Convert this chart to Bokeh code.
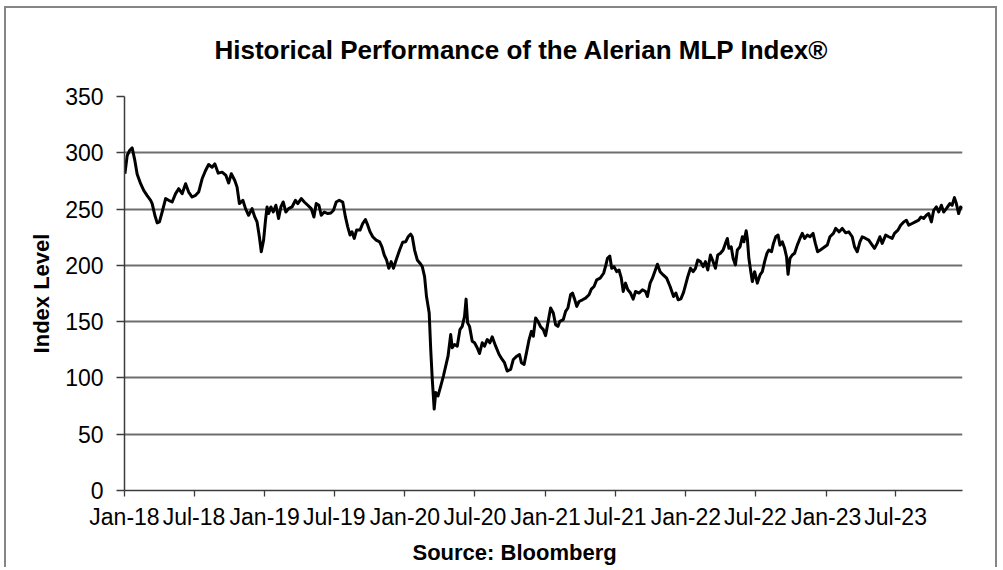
import pandas as pd
from bokeh.plotting import figure
from bokeh.models import Range1d, FixedTicker, DatetimeTickFormatter, Title, ColumnDataSource
from bokeh.embed import file_html
from bokeh.resources import INLINE

# ---------------- data ----------------
dates = [
    "2018-01-02", "2018-01-08", "2018-01-14", "2018-01-21", "2018-01-28", "2018-02-03", "2018-02-12", "2018-02-20",
    "2018-03-01", "2018-03-10", "2018-03-14", "2018-03-21", "2018-03-27", "2018-04-02", "2018-04-09", "2018-04-18",
    "2018-04-26", "2018-05-05", "2018-05-14", "2018-05-22", "2018-05-31", "2018-06-09", "2018-06-17", "2018-06-26",
    "2018-07-05", "2018-07-13", "2018-07-22", "2018-07-31", "2018-08-08", "2018-08-17", "2018-08-24", "2018-09-02",
    "2018-09-12", "2018-09-22", "2018-09-29", "2018-10-06", "2018-10-15", "2018-10-21", "2018-10-27", "2018-11-05",
    "2018-11-12", "2018-11-20", "2018-11-29", "2018-12-06", "2018-12-12", "2018-12-18", "2018-12-23", "2018-12-29",
    "2019-01-03", "2019-01-07", "2019-01-11", "2019-01-17", "2019-01-23", "2019-01-30", "2019-02-06", "2019-02-12",
    "2019-02-18", "2019-02-25", "2019-03-04", "2019-03-13", "2019-03-22", "2019-03-28", "2019-04-06", "2019-04-14",
    "2019-04-23", "2019-05-02", "2019-05-09", "2019-05-15", "2019-05-22", "2019-05-28", "2019-06-05", "2019-06-14",
    "2019-06-22", "2019-06-29", "2019-07-06", "2019-07-14", "2019-07-23", "2019-07-30", "2019-08-05", "2019-08-11",
    "2019-08-16", "2019-08-22", "2019-08-28", "2019-09-06", "2019-09-13", "2019-09-20", "2019-09-26", "2019-10-02",
    "2019-10-09", "2019-10-18", "2019-10-27", "2019-11-02", "2019-11-08", "2019-11-14", "2019-11-20", "2019-11-26",
    "2019-12-02", "2019-12-09", "2019-12-18", "2019-12-26",
    "2020-01-03", "2020-01-09", "2020-01-16", "2020-01-20", "2020-01-26", "2020-02-02", "2020-02-09", "2020-02-15",
    "2020-02-21", "2020-02-26", "2020-03-04", "2020-03-08", "2020-03-12", "2020-03-17", "2020-03-21", "2020-03-27",
    "2020-04-03", "2020-04-10", "2020-04-16", "2020-04-22", "2020-04-29", "2020-05-03", "2020-05-09", "2020-05-16",
    "2020-05-23", "2020-05-29", "2020-06-04", "2020-06-08", "2020-06-12", "2020-06-17", "2020-06-24", "2020-06-30",
    "2020-07-07", "2020-07-13", "2020-07-20", "2020-07-26", "2020-08-02", "2020-08-09", "2020-08-15", "2020-08-24",
    "2020-09-02", "2020-09-10", "2020-09-16", "2020-09-23", "2020-10-02", "2020-10-09", "2020-10-18", "2020-10-25",
    "2020-10-30", "2020-11-06", "2020-11-13", "2020-11-19", "2020-11-25", "2020-11-30", "2020-12-06", "2020-12-12",
    "2020-12-19", "2020-12-26",
    "2021-01-01", "2021-01-07", "2021-01-14", "2021-01-21", "2021-01-27", "2021-02-02", "2021-02-07", "2021-02-16",
    "2021-02-22", "2021-02-28", "2021-03-07", "2021-03-12", "2021-03-18", "2021-03-23", "2021-03-29", "2021-04-07",
    "2021-04-15", "2021-04-24", "2021-04-30", "2021-05-07", "2021-05-14", "2021-05-23", "2021-06-01", "2021-06-07",
    "2021-06-11", "2021-06-17", "2021-06-22", "2021-06-28", "2021-07-05", "2021-07-11", "2021-07-17", "2021-07-22",
    "2021-07-28", "2021-08-03", "2021-08-10", "2021-08-17", "2021-08-23", "2021-09-01", "2021-09-10", "2021-09-18",
    "2021-09-23", "2021-09-30", "2021-10-06", "2021-10-12", "2021-10-19", "2021-10-26", "2021-11-03", "2021-11-12",
    "2021-11-21", "2021-11-30", "2021-12-06", "2021-12-12", "2021-12-19", "2021-12-26",
    "2022-01-01", "2022-01-06", "2022-01-13", "2022-01-20", "2022-01-26", "2022-02-01", "2022-02-08", "2022-02-15",
    "2022-02-21", "2022-02-27", "2022-03-06", "2022-03-13", "2022-03-19", "2022-03-25", "2022-04-01", "2022-04-08",
    "2022-04-14", "2022-04-19", "2022-04-23", "2022-04-29", "2022-05-04", "2022-05-10", "2022-05-15", "2022-05-22",
    "2022-05-28", "2022-06-01", "2022-06-07", "2022-06-10", "2022-06-14", "2022-06-19", "2022-06-23", "2022-06-29",
    "2022-07-06", "2022-07-13", "2022-07-19", "2022-07-25", "2022-07-31", "2022-08-05", "2022-08-12", "2022-08-17",
    "2022-08-23", "2022-08-29", "2022-09-03", "2022-09-09", "2022-09-15", "2022-09-20", "2022-09-24", "2022-09-29",
    "2022-10-05", "2022-10-11", "2022-10-18", "2022-10-25", "2022-10-31", "2022-11-06", "2022-11-13", "2022-11-20",
    "2022-11-28", "2022-12-04", "2022-12-10", "2022-12-17", "2022-12-26",
    "2023-01-04", "2023-01-11", "2023-01-20", "2023-01-26", "2023-02-04", "2023-02-12", "2023-02-21", "2023-03-01",
    "2023-03-10", "2023-03-16", "2023-03-23", "2023-03-30", "2023-04-05", "2023-04-14", "2023-04-22", "2023-05-01",
    "2023-05-07", "2023-05-14", "2023-05-21", "2023-05-27", "2023-06-05", "2023-06-13", "2023-06-22", "2023-06-28",
    "2023-07-07", "2023-07-14", "2023-07-22", "2023-07-29", "2023-08-04", "2023-08-13", "2023-08-21", "2023-08-30",
    "2023-09-05", "2023-09-12", "2023-09-19", "2023-09-25", "2023-10-02", "2023-10-08", "2023-10-15", "2023-10-21",
    "2023-10-28", "2023-11-03", "2023-11-10", "2023-11-19", "2023-11-25", "2023-12-01", "2023-12-06", "2023-12-12",
    "2023-12-17", "2023-12-22",
]

index_level = [
    281.4, 297.5, 302.0, 304.3, 293.0, 281.0, 272.5, 266.6,
    262.0, 257.8, 254.9, 244.5, 237.7, 238.6, 247.4, 259.3,
    257.8, 256.3, 263.7, 268.1, 263.7, 272.5, 265.1, 260.7,
    262.2, 265.1, 276.9, 284.3, 289.6, 287.2, 290.2, 281.9,
    282.8, 279.9, 273.1, 281.4, 275.4, 269.5, 254.9, 257.8,
    250.4, 244.5, 250.4, 243.0, 238.6, 225.4, 212.1, 222.4,
    240.1, 251.9, 246.0, 251.9, 247.4, 253.4, 241.6, 251.9,
    256.3, 247.4, 250.4, 251.9, 257.8, 254.9, 259.3, 256.3,
    253.4, 250.4, 243.0, 254.9, 253.4, 244.5, 247.4, 246.0,
    246.5, 248.9, 256.3, 257.8, 256.3, 243.0, 234.2, 226.9,
    229.8, 223.9, 231.3, 231.3, 237.2, 240.7, 235.7, 229.8,
    225.4, 222.4, 220.9, 216.5, 209.2, 204.8, 197.4, 203.3,
    197.4, 204.8, 213.6, 220.5,
    221.0, 225.4, 227.7, 225.4, 213.6, 204.8, 201.9, 198.9,
    190.0, 172.3, 157.7, 125.3, 98.8, 72.3, 87.0, 84.0,
    92.8, 101.7, 110.5, 119.3, 138.5, 126.8, 129.7, 128.2,
    142.9, 145.8, 154.7, 170.0, 148.9, 145.8, 132.6, 131.2,
    126.8, 121.7, 131.2, 128.2, 134.1, 131.2, 136.5, 128.2,
    120.8, 116.4, 113.5, 106.1, 107.6, 116.4, 119.3, 120.8,
    113.5, 112.0, 123.8, 134.1, 141.4, 137.0, 153.3, 150.3,
    145.5, 142.9,
    137.6, 148.9, 162.1, 157.7, 147.3, 145.8, 150.3, 151.8,
    159.1, 162.1, 173.9, 175.4, 169.4, 163.5, 167.9, 169.4,
    170.9, 173.9, 178.9, 181.2, 187.1, 188.6, 193.0, 200.4,
    206.3, 208.3, 197.4, 198.9, 194.4, 195.9, 188.6, 176.8,
    184.2, 178.3, 175.4, 170.0, 176.8, 175.4, 178.3, 176.8,
    172.3, 184.2, 188.6, 194.4, 201.0, 194.4, 191.5, 188.6,
    181.2, 172.3, 175.4, 169.4, 170.2, 176.0,
    183.5, 190.0, 197.4, 194.4, 197.4, 204.8, 203.3, 198.9,
    203.3, 195.9, 209.2, 203.3, 197.4, 209.2, 210.7, 213.6,
    219.5, 223.9, 215.1, 216.5, 206.3, 200.4, 213.6, 216.5,
    225.4, 220.9, 230.7, 223.9, 206.3, 194.4, 185.6, 194.4,
    184.2, 191.5, 194.4, 203.3, 210.7, 213.6, 212.1, 219.5,
    225.4, 226.9, 218.0, 220.9, 215.1, 207.7, 192.0, 206.3,
    209.2, 210.7, 218.0, 223.9, 228.4, 223.9, 226.9, 225.4,
    228.4, 219.5, 212.1, 213.6, 215.8,
    218.0, 225.4, 228.4, 232.8, 229.8, 232.8, 228.9, 229.8,
    225.4, 216.5, 212.1, 220.9, 225.4, 223.9, 222.4, 218.0,
    215.1, 219.5, 225.4, 219.5, 226.9, 225.4, 223.9, 228.4,
    231.3, 235.7, 238.6, 240.1, 235.7, 237.2, 238.6, 240.1,
    243.0, 241.6, 244.5, 246.0, 238.6, 248.9, 251.9, 247.4,
    253.4, 247.4, 250.4, 254.9, 253.4, 260.2, 254.9, 246.0,
    251.9, 250.4,
]

tick_dates = ["2018-01-01", "2018-07-01", "2019-01-01", "2019-07-01", "2020-01-01", "2020-07-01",
              "2021-01-01", "2021-07-01", "2022-01-01", "2022-07-01", "2023-01-01", "2023-07-01"]
tick_labels = ["Jan-18", "Jul-18", "Jan-19", "Jul-19", "Jan-20", "Jul-20",
               "Jan-21", "Jul-21", "Jan-22", "Jul-22", "Jan-23", "Jul-23"]
y_ticks = [0, 50, 100, 150, 200, 250, 300, 350]

title_text = "Historical Performance of the Alerian MLP Index\u00ae"
y_label = "Index Level"
source_text = "Source: Bloomberg"

FONT = "Liberation Sans"

# ---------------- figure ----------------
src = ColumnDataSource(dict(date=pd.to_datetime(dates), level=index_level))

p = figure(
    width=993, height=561,
    x_axis_type="datetime",
    x_range=Range1d(pd.Timestamp("2018-01-01"), pd.Timestamp(dates[-1])),
    y_range=Range1d(0, 350),
    output_backend="svg", toolbar_location=None,
    min_border_left=118, min_border_right=37, min_border_top=88, min_border_bottom=77,
)
p.styles = {
    "margin-left": "4px",
    "margin-top": "6px",
    "border-left": "2px solid #858585",
    "border-top": "2px solid #858585",
    "border-right": "2px solid #858585",
}
p.background_fill_color = "white"
p.border_fill_color = "white"
p.outline_line_color = None

p.line(x="date", y="level", source=src, line_color="black", line_width=3, line_join="round")

# x axis
tick_ms = [int(pd.Timestamp(d).value // 10**6) for d in tick_dates]
p.xaxis.ticker = FixedTicker(ticks=tick_ms)
fmt = "%b-%y"
p.xaxis.formatter = DatetimeTickFormatter(days=fmt, months=fmt, years=fmt, hours=fmt, hourmin=fmt,
                                          minutes=fmt, minsec=fmt, seconds=fmt, milliseconds=fmt,
                                          microseconds=fmt)
p.xaxis.major_label_overrides = {ms: lab for ms, lab in zip(tick_ms, tick_labels)}
p.xaxis.axis_line_color = "#3c3c3c"
p.xaxis.axis_line_width = 1.5
p.xaxis.major_tick_line_color = "#3c3c3c"
p.xaxis.major_tick_line_width = 1.3
p.xaxis.major_tick_out = 6
p.xaxis.major_tick_in = 0
p.xaxis.minor_tick_line_color = None
p.xaxis.major_label_standoff = 7
p.xaxis.major_label_text_font = FONT
p.xaxis.major_label_text_font_size = "23px"
p.xaxis.major_label_text_color = "black"

# y axis
p.yaxis.ticker = FixedTicker(ticks=y_ticks)
p.yaxis.axis_line_color = "#3c3c3c"
p.yaxis.axis_line_width = 1.5
p.yaxis.major_tick_line_color = "#3c3c3c"
p.yaxis.major_tick_line_width = 1.3
p.yaxis.major_tick_out = 8
p.yaxis.major_tick_in = 0
p.yaxis.minor_tick_line_color = None
p.yaxis.major_label_standoff = 13
p.yaxis.major_label_text_font = FONT
p.yaxis.major_label_text_font_size = "23px"
p.yaxis.major_label_text_color = "black"
p.yaxis.axis_label = y_label
p.yaxis.axis_label_text_font = FONT
p.yaxis.axis_label_text_font_size = "22px"
p.yaxis.axis_label_text_font_style = "bold"
p.yaxis.axis_label_text_color = "black"
p.yaxis.axis_label_standoff = 8

# grid
p.xgrid.visible = False
p.ygrid.grid_line_color = "#6e6e6e"
p.ygrid.grid_line_width = 1.8

# title (outermost above panel); a blank spacer panel lifts it off the frame
p.title.text = title_text
p.title.align = "left"
p.title.vertical_align = "bottom"
p.title.offset = 90
p.title.standoff = 10
p.title.text_font = FONT
p.title.text_font_size = "26px"
p.title.text_font_style = "bold"
p.title.text_color = "black"

spacer = Title(text=" ", text_font_size="2px", standoff=23)
p.add_layout(spacer, "above")

src_title = Title(text=source_text, align="left", offset=288, standoff=10, text_font=FONT,
                  text_font_size="22px", text_font_style="bold", text_color="black")
p.add_layout(src_title, "below")

open("out.html", "w").write(file_html(p, INLINE))
